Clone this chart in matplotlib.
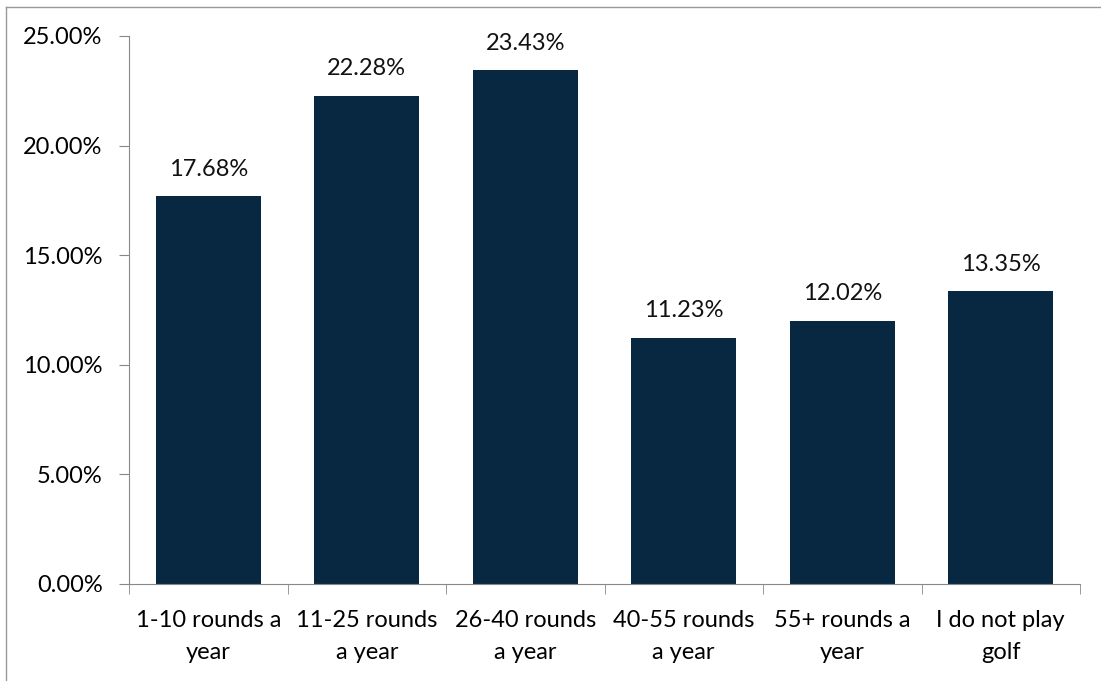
import matplotlib.pyplot as plt
import numpy as np

categories = ['1-10 rounds a\nyear', '11-25 rounds\na year', '26-40 rounds\na year',
              '40-55 rounds\na year', '55+ rounds a\nyear', 'I do not play\ngolf']
values = [17.68, 22.28, 23.43, 11.23, 12.02, 13.35]
y_ticks = [0, 5, 10, 15, 20, 25]

plt.rcParams['font.family'] = ['Lato', 'DejaVu Sans']

fig = plt.figure(figsize=(11.01, 6.81), dpi=100)
ax = fig.add_axes([129 / 1101, 1 - 584 / 681, (1080 - 129) / 1101, (584 - 36) / 681])

x = np.arange(len(categories))
bars = ax.bar(x, values, width=0.665, color='#082841')
for b, v in zip(bars, values):
    ax.annotate(f'{v:.2f}%', (b.get_x() + b.get_width() / 2, v),
                xytext=(0, 19.5), textcoords='offset points',
                ha='center', va='center', fontsize=17, color='#111111')

ax.set_xlim(-0.5, len(categories) - 0.5)
ax.set_ylim(0, 25)
ax.set_yticks(y_ticks)
ax.set_yticklabels([f'{t:.2f}%' for t in y_ticks], fontsize=17)
ax.set_xticks(x)
ax.set_xticklabels(categories, fontsize=17, linespacing=1.65)
ax.set_xticks(np.arange(len(categories) + 1) - 0.5, minor=True)
ax.tick_params(axis='x', which='major', length=0, pad=19)
ax.tick_params(axis='x', which='minor', length=7, color='#888888')
ax.tick_params(axis='y', length=7, color='#888888', pad=12)

for s in ['top', 'right']:
    ax.spines[s].set_visible(False)
for s in ['left', 'bottom']:
    ax.spines[s].set_color('#888888')

# outer frame: only the left and top edges fall inside the picture
fig.add_artist(plt.Line2D([6.5 / 1101, 6.5 / 1101], [0, 1 - 6.5 / 681],
                          transform=fig.transFigure, color='#999999', linewidth=1))
fig.add_artist(plt.Line2D([6.5 / 1101, 1], [1 - 6.5 / 681, 1 - 6.5 / 681],
                          transform=fig.transFigure, color='#999999', linewidth=1))

plt.savefig('out.png', dpi=100)
